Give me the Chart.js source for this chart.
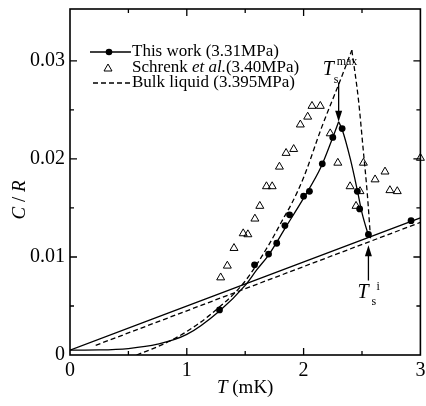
<!DOCTYPE html>
<html>
<head>
<meta charset="utf-8">
<script src="https://cdn.jsdelivr.net/npm/chart.js@4.4.1/dist/chart.umd.min.js"></script>
<style>
  html, body { margin: 0; padding: 0; background: #fff; }
  #wrap { width: 426px; height: 406px; }
</style>
</head>
<body>
<div id="wrap"><canvas id="chart" width="426" height="406"></canvas></div>
<script>
// Pontos "This work (3.31MPa)"
const workT = [1.28, 1.58, 1.70, 1.77, 1.84, 1.88, 2.00, 2.05, 2.16, 2.25, 2.33, 2.46, 2.48, 2.555, 2.92];
const workC = [0.0046, 0.0092, 0.0103, 0.0114, 0.0132, 0.0143, 0.0162, 0.0167, 0.0195, 0.0222, 0.0231, 0.0167, 0.0149, 0.0123, 0.0137];

// Triangulos "Schrenk et al. (3.40MPa)"
const schrenkT = [1.29, 1.347, 1.404, 1.483, 1.523, 1.583, 1.625, 1.682, 1.731, 1.793, 1.850, 1.915, 1.972, 2.035, 2.072, 2.143, 2.228, 2.293, 2.398, 2.449, 2.483, 2.512, 2.612, 2.697, 2.739, 2.802, 3.0];
const schrenkC = [0.0079, 0.0091, 0.0109, 0.0124, 0.0123, 0.0139, 0.0152, 0.0172, 0.0172, 0.0192, 0.0206, 0.0210, 0.0235, 0.0243, 0.0254, 0.0254, 0.0226, 0.0196, 0.0172, 0.0152, 0.0167, 0.0196, 0.0179, 0.0187, 0.0168, 0.0167, 0.0201];

// Curva solida (this work) - ramo subindo e ramo descendo
const riseT = [0, 0.25, 0.5, 0.75, 1.0, 1.28, 1.5, 1.6, 1.7, 1.85, 2.0, 2.15, 2.25, 2.30];
const riseC = [0.0005, 0.00052, 0.00066, 0.0011, 0.0021, 0.0045, 0.0071, 0.0087, 0.0102, 0.0131, 0.0160, 0.0192, 0.0222, 0.0238];
const fallT = [2.30, 2.33, 2.40, 2.46, 2.50, 2.56];
const fallC = [0.0238, 0.0230, 0.0200, 0.0168, 0.0145, 0.0120];

// Curva tracejada (bulk liquid)
const bulkRiseT = [0.57, 0.7, 0.85, 1.0, 1.2, 1.49, 1.7, 1.83, 1.9, 2.0, 2.157, 2.3, 2.413];
const bulkRiseC = [0, 0.0006, 0.0014, 0.0024, 0.0041, 0.0074, 0.0112, 0.0140, 0.0155, 0.0181, 0.0233, 0.0276, 0.0311];
const bulkFallT = [2.413, 2.47, 2.51, 2.545, 2.575];
const bulkFallC = [0.0311, 0.0260, 0.0210, 0.0165, 0.0116];

// Retas do estado normal
const normT = [0, 3];
const normC = [0.0005, 0.0140];
const bulkNormT = [0.22, 3];
const bulkNormC = [0.00099, 0.01353];

// Eixos
const xTicks = [0, 1, 2, 3];
const yTicks = [0, 0.01, 0.02, 0.03];

const SERIF = '"Liberation Serif", "DejaVu Serif", serif';
const pts = (xs, ys) => xs.map((x, i) => ({ x: x, y: ys[i] }));

function curve(xs, ys, dashed) {
    return {
        type: 'line',
        data: pts(xs, ys),
        borderColor: '#000',
        borderWidth: 1.3,
        borderDash: dashed ? [5, 3] : [],
        pointRadius: 0,
        fill: false,
        cubicInterpolationMode: 'monotone'
    };
}

// Texto com partes em italico
function drawParts(ctx, parts, x, y, align) {
    let total = 0;
    parts.forEach(p => { ctx.font = p[1]; total += ctx.measureText(p[0]).width; });
    let cx = align === 'center' ? x - total / 2 : x;
    ctx.textAlign = 'left';
    ctx.textBaseline = 'middle';
    parts.forEach(p => {
        ctx.font = p[1];
        ctx.fillText(p[0], cx, y);
        cx += ctx.measureText(p[0]).width;
    });
}

function arrow(ctx, x, y0, y1) {
    // de y0 ate a ponta em y1
    const dir = y1 > y0 ? 1 : -1;
    ctx.beginPath();
    ctx.moveTo(x, y0);
    ctx.lineTo(x, y1 - dir * 8);
    ctx.lineWidth = 1.3;
    ctx.stroke();
    ctx.beginPath();
    ctx.moveTo(x, y1);
    ctx.lineTo(x - 3.5, y1 - dir * 11);
    ctx.lineTo(x + 3.5, y1 - dir * 11);
    ctx.closePath();
    ctx.fill();
}

const decor = {
    id: 'decor',
    afterDraw(chart) {
        const ctx = chart.ctx;
        const a = chart.chartArea;
        const sx = chart.scales.x, sy = chart.scales.y;
        ctx.save();
        ctx.strokeStyle = '#000';
        ctx.fillStyle = '#000';

        // Moldura
        ctx.lineWidth = 1.6;
        ctx.strokeRect(a.left, a.top, a.right - a.left, a.bottom - a.top);

        // Ticks internos nos quatro lados
        ctx.lineWidth = 1.3;
        for (let v = 0.5; v < 3; v += 0.5) {
            const len = Number.isInteger(v) ? 7 : 4;
            const px = sx.getPixelForValue(v);
            ctx.beginPath();
            ctx.moveTo(px, a.bottom); ctx.lineTo(px, a.bottom - len);
            ctx.moveTo(px, a.top); ctx.lineTo(px, a.top + len);
            ctx.stroke();
        }
        for (let k = 1; k <= 6; k++) {
            const v = k * 0.005;
            const len = k % 2 === 0 ? 7 : 4;
            const py = sy.getPixelForValue(v);
            ctx.beginPath();
            ctx.moveTo(a.left, py); ctx.lineTo(a.left + len, py);
            ctx.moveTo(a.right, py); ctx.lineTo(a.right - len, py);
            ctx.stroke();
        }

        // Titulos dos eixos
        drawParts(ctx, [['T', 'italic 19px ' + SERIF], [' (mK)', '19px ' + SERIF]],
            (a.left + a.right) / 2, 388, 'center');
        ctx.save();
        ctx.translate(20, 200);
        ctx.rotate(-Math.PI / 2);
        drawParts(ctx, [['C', 'italic 19px ' + SERIF], [' / ', '19px ' + SERIF], ['R', 'italic 19px ' + SERIF]],
            0, 0, 'center');
        ctx.restore();

        // Legenda
        const f = '17px ' + SERIF, fi = 'italic 17px ' + SERIF;
        ctx.lineWidth = 1.3;
        ctx.beginPath(); ctx.moveTo(90, 52); ctx.lineTo(131, 52); ctx.stroke();
        ctx.beginPath(); ctx.arc(109, 52, 3.3, 0, Math.PI * 2); ctx.fill();
        drawParts(ctx, [['This work (3.31MPa)', f]], 132, 52, 'left');
        ctx.lineWidth = 1;
        ctx.beginPath();
        ctx.moveTo(108, 64); ctx.lineTo(112, 71); ctx.lineTo(104, 71); ctx.closePath();
        ctx.stroke();
        drawParts(ctx, [['Schrenk ', f], ['et al.', fi], ['(3.40MPa)', f]], 132, 68, 'left');
        ctx.lineWidth = 1.3;
        ctx.setLineDash([5, 3]);
        ctx.beginPath(); ctx.moveTo(93, 83); ctx.lineTo(130, 83); ctx.stroke();
        ctx.setLineDash([]);
        drawParts(ctx, [['Bulk liquid (3.395MPa)', f]], 132, 83, 'left');

        // Setas e rotulos T_s^max e T_s^i
        const xm = sx.getPixelForValue(2.30);
        arrow(ctx, xm, sy.getPixelForValue(0.0278), sy.getPixelForValue(0.0238));
        const ym = sy.getPixelForValue(0.0278);
        drawParts(ctx, [['T', 'italic 20px ' + SERIF]], xm - 16, ym - 13, 'left');
        drawParts(ctx, [['s', '12px ' + SERIF]], xm - 5, ym - 3, 'left');
        drawParts(ctx, [['max', '12px ' + SERIF]], xm - 2, ym - 21, 'left');

        const xi = sx.getPixelForValue(2.555);
        const yi = sy.getPixelForValue(0.0076);
        arrow(ctx, xi, yi, sy.getPixelForValue(0.0112));
        drawParts(ctx, [['T', 'italic 20px ' + SERIF]], xi - 11, yi + 12, 'left');
        drawParts(ctx, [['s', '12px ' + SERIF]], xi + 3, yi + 21, 'left');
        drawParts(ctx, [['i', '12px ' + SERIF]], xi + 8, yi + 6, 'left');

        ctx.restore();
    }
};

Chart.defaults.font.family = SERIF;
Chart.defaults.color = '#000';

new Chart(document.getElementById('chart'), {
    type: 'scatter',
    data: {
        datasets: [
            curve(normT, normC, false),
            curve(bulkNormT, bulkNormC, true),
            curve(riseT, riseC, false),
            curve(fallT, fallC, false),
            curve(bulkRiseT, bulkRiseC, true),
            curve(bulkFallT, bulkFallC, true),
            {
                data: pts(workT, workC),
                pointStyle: 'circle',
                pointRadius: 3.4,
                backgroundColor: '#000',
                borderColor: '#000',
                borderWidth: 0
            },
            {
                data: pts(schrenkT, schrenkC),
                pointStyle: 'triangle',
                pointRadius: 4.6,
                backgroundColor: 'rgba(0,0,0,0)',
                borderColor: '#000',
                borderWidth: 1,
                clip: false
            }
        ]
    },
    options: {
        responsive: false,
        animation: false,
        layout: { padding: { top: 9, right: 4, left: 0, bottom: 0 } },
        plugins: { legend: { display: false }, tooltip: { enabled: false } },
        scales: {
            x: {
                type: 'linear', min: 0, max: 3,
                grid: { display: false, drawTicks: false },
                border: { display: false },
                ticks: {
                    stepSize: 1, padding: 4,
                    font: { size: 20, family: SERIF },
                    callback: v => xTicks.includes(v) ? String(v) : ''
                },
                afterFit: s => { s.height = 51; s.paddingLeft = 0; s.paddingRight = 0; }
            },
            y: {
                type: 'linear', min: 0, max: 0.0353,
                grid: { display: false, drawTicks: false },
                border: { display: false },
                ticks: {
                    stepSize: 0.01, padding: 5,
                    font: { size: 20, family: SERIF },
                    callback: v => {
                        const hit = yTicks.find(t => Math.abs(t - v) < 1e-9);
                        if (hit === undefined) return '';
                        return hit === 0 ? '0' : hit.toFixed(2);
                    }
                },
                afterFit: s => { s.width = 70; s.paddingTop = 0; s.paddingBottom = 0; }
            }
        }
    },
    plugins: [decor]
});
</script>
</body>
</html>
